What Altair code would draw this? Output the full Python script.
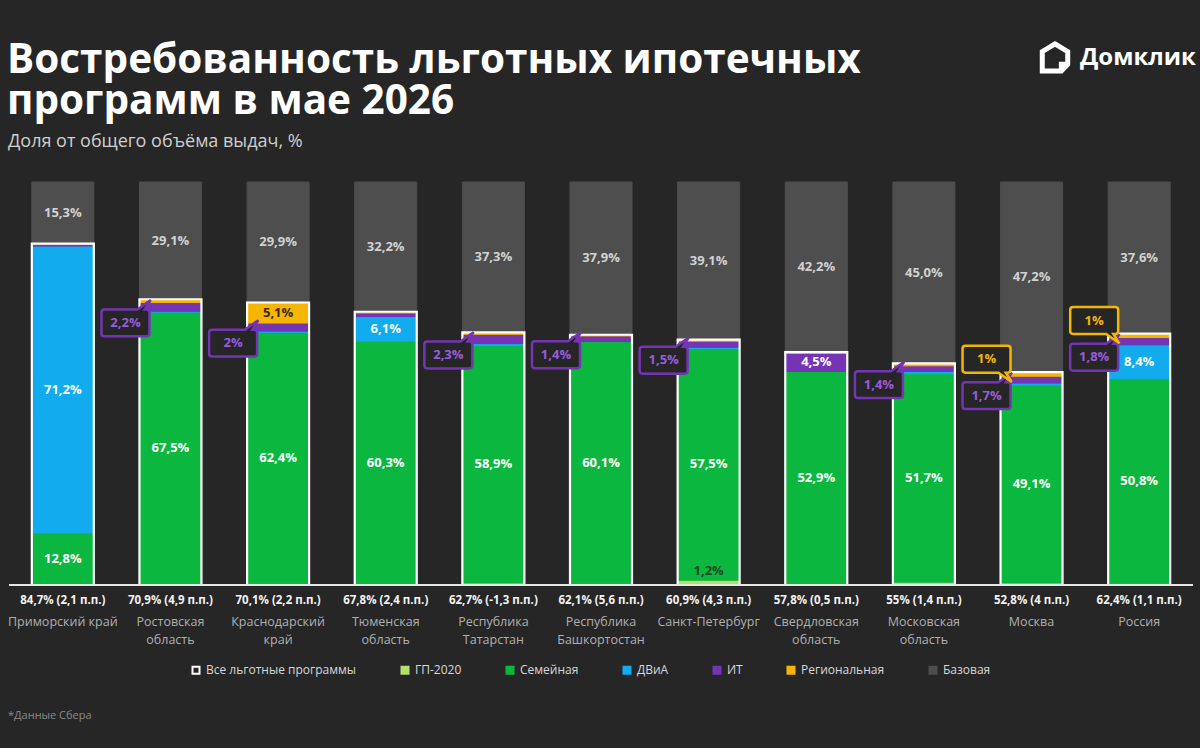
import altair as alt
import pandas as pd

# ---- data -----------------------------------------------------------------
regions = [
    "Приморский край", "Ростовская\nобласть", "Краснодарский\nкрай",
    "Тюменская\nобласть", "Республика\nТатарстан", "Республика\nБашкортостан",
    "Санкт-Петербург", "Свердловская\nобласть", "Московская\nобласть",
    "Москва", "Россия",
]
# share of all preferential programmes, % and change, p.p.
total = [84.7, 70.9, 70.1, 67.8, 62.7, 62.1, 60.9, 57.8, 55.0, 52.8, 62.4]
change = [2.1, 4.9, 2.2, 2.4, -1.3, 5.6, 4.3, 0.5, 1.4, 4.0, 1.1]

# programme shares, % (bottom to top of each stack)
gp2020 = [0.1, 0.2, 0.3, 0.2, 0.5, 0.3, 1.2, 0.1, 0.7, 0.5, 0.4]
family = [12.8, 67.5, 62.4, 60.3, 58.9, 60.1, 57.5, 52.9, 51.7, 49.1, 50.8]
dvia = [71.2, 0.2, 0.3, 6.1, 0.5, 0.0, 0.3, 0.0, 0.6, 0.5, 8.4]
it = [0.5, 2.2, 2.0, 0.9, 2.3, 1.4, 1.5, 4.5, 1.4, 1.7, 1.8]
regional = [0.1, 0.8, 5.1, 0.3, 0.5, 0.3, 0.4, 0.3, 0.6, 1.0, 1.0]

title_lines = ["Востребованность льготных ипотечных", "программ в мае 2026"]
subtitle = "Доля от общего объёма выдач, %"
brand = "Домклик"
source_note = "*Данные Сбера"

ALL = "Все льготные программы"
programs = ["ГП-2020", "Семейная", "ДВиА", "ИТ", "Региональная", "Базовая"]
legend_domain = [ALL] + programs
palette = {
    ALL: "#262626",
    "ГП-2020": "#b4e06a",
    "Семейная": "#0bb73f",
    "ДВиА": "#12abee",
    "ИТ": "#7434b3",
    "Региональная": "#f6b502",
    "Базовая": "#4e4e4e",
}
stroke_palette = dict(palette, **{ALL: "#ffffff"})
text_on = {
    "ГП-2020": "#1d4a1f",
    "Семейная": "#ffffff",
    "ДВиА": "#ffffff",
    "ИТ": "#ffffff",
    "Региональная": "#3b2b00",
    "Базовая": "#d2d2d2",
}

BG = "#262626"
FONT = "Open Sans"


def fmt(v, keep_decimal=False):
    s = f"{v:.1f}"
    if s.endswith(".0") and not keep_decimal:
        s = s[:-2]
    return s.replace(".", ",")


# ---- tables -----------------------------------------------------------------
seg_rows, label_rows, callout_rows = [], [], []
for i, reg in enumerate(regions):
    base = round(100 - total[i], 1)
    vals = [gp2020[i], family[i], dvia[i], it[i], regional[i], base]
    y0 = 0.0
    for prog, v in zip(programs, vals):
        y1 = y0 + v
        if v > 0:
            seg_rows.append(dict(region=reg, program=prog, y0=y0, y1=y1))
        mid = (y0 + y1) / 2
        txt = fmt(v, keep_decimal=(prog == "Базовая")) + "%"
        inside = (
            prog in ("Семейная", "Базовая")
            or (prog in ("ГП-2020", "ДВиА") and v >= 1)
            or (prog in ("ИТ", "Региональная") and v >= 3)
        )
        if inside:
            # the thin ГП-2020 band is labelled just above itself
            pos = y1 + 2.2 if prog == "ГП-2020" else mid
            label_rows.append(dict(region=reg, mid=pos, text=txt, tcolor=text_on[prog]))
        elif prog in ("ИТ", "Региональная") and v >= 1:
            callout_rows.append(dict(region=reg, program=prog, mid=mid, text=txt))
        y0 = y1

segs = pd.DataFrame(seg_rows)
labels = pd.DataFrame(label_rows)
callouts = pd.DataFrame(callout_rows)
totals = pd.DataFrame({
    "region": regions,
    "total": total,
    "caption": [f"{fmt(t)}% ({fmt(c)} п.п.)" for t, c in zip(total, change)],
})

# ---- encodings --------------------------------------------------------------
X = alt.X(
    "region:N", sort=regions, axis=None,
    scale=alt.Scale(paddingInner=0.424, paddingOuter=0.212),
)
Y_SCALE = alt.Scale(domain=[0, 100], nice=False, zero=True)
Y_ZERO = alt.Y(datum=0, scale=Y_SCALE, axis=None)

legend = alt.Legend(
    orient="none", legendX=181, legendY=482, direction="horizontal", columns=7,
    title=None, symbolType="square", symbolSize=49, symbolStrokeWidth=2,
    labelColor="#d8d8d8", labelFontSize=12, labelFont=FONT, labelOffset=4,
    columnPadding=40,
)

bars = alt.Chart(segs).mark_bar().encode(
    x=X,
    y=alt.Y("y0:Q", scale=Y_SCALE, axis=None),
    y2="y1:Q",
    fill=alt.Fill("program:N", legend=legend, scale=alt.Scale(
        domain=legend_domain, range=[palette[k] for k in legend_domain])),
    stroke=alt.Stroke("program:N", legend=legend, scale=alt.Scale(
        domain=legend_domain, range=[stroke_palette[k] for k in legend_domain])),
)

outline = alt.Chart(totals).mark_bar(
    fillOpacity=0, stroke="#ffffff", strokeWidth=2.2
).encode(x=X, y=alt.Y("total:Q", scale=Y_SCALE, axis=None), y2=alt.datum(0))

baseline = alt.Chart(totals).mark_rule(color="#e6e6e6", strokeWidth=2).encode(
    y=Y_ZERO
)

inside_text = alt.Chart(labels).mark_text(
    font=FONT, fontSize=13, fontWeight="bold", baseline="middle"
).encode(
    x=X, y=alt.Y("mid:Q", scale=Y_SCALE, axis=None), text="text:N",
    color=alt.Color("tcolor:N", scale=None),
)

# speech-bubble callouts for thin segments
BOX_IT = ("M-0.88,-0.56 L0.5,-0.56 L1.05,-0.95 L0.8,-0.56 L0.88,-0.56 "
          "Q1,-0.56 1,-0.44 L1,0.44 Q1,0.56 0.88,0.56 L-0.88,0.56 "
          "Q-1,0.56 -1,0.44 L-1,-0.44 Q-1,-0.56 -0.88,-0.56 Z")
BOX_REG = ("M-0.88,-0.56 L0.88,-0.56 Q1,-0.56 1,-0.44 L1,0.44 Q1,0.56 0.88,0.56 "
           "L0.8,0.56 L1.05,0.95 L0.5,0.56 L-0.88,0.56 Q-1,0.56 -1,0.44 "
           "L-1,-0.44 Q-1,-0.56 -0.88,-0.56 Z")


def callout_layers(prog, shape, dy, edge, txt_color):
    src = alt.Chart(callouts).transform_filter(alt.datum.program == prog)
    box = src.mark_point(
        shape=shape, size=2304, filled=True, fill=BG, stroke=edge,
        strokeWidth=2.5, opacity=1, xOffset=-45, yOffset=dy,
    ).encode(x=X, y=alt.Y("mid:Q", scale=Y_SCALE, axis=None))
    txt = src.mark_text(
        font=FONT, fontSize=13, fontWeight="bold", color=txt_color,
        xOffset=-45, yOffset=dy, baseline="middle",
    ).encode(x=X, y=alt.Y("mid:Q", scale=Y_SCALE, axis=None), text="text:N")
    return [box, txt]


it_layers = callout_layers("ИТ", BOX_IT, 16, "#7434b3", "#9a5bdc")
reg_layers = callout_layers("Региональная", BOX_REG, -15, "#f2b705", "#f2b705")

caption_text = alt.Chart(totals).mark_text(
    font=FONT, fontSize=11.5, fontWeight="bold", color="#f2f2f2",
    baseline="middle", dy=16,
).encode(x=X, y=Y_ZERO, text="caption:N")

region_text = alt.Chart(totals).mark_text(
    font=FONT, fontSize=12.5, color="#b0b0b0", baseline="top", dy=31,
    lineBreak="\n", lineHeight=18,
).encode(x=X, y=Y_ZERO, text="region:N")

# heading block, brand mark and footnote
heading = pd.DataFrame({
    "t": [title_lines[0], title_lines[1], subtitle],
    "row": [0, 1, 2],
})


def heading_row(row, y, size, weight, color, x=-2):
    return alt.Chart(heading).transform_filter(
        alt.datum.row == row
    ).mark_text(
        font=FONT, fontSize=size, fontWeight=weight, color=color,
        align="left", baseline="alphabetic",
    ).encode(x=alt.value(x), y=alt.value(y), text="t:N")


head1 = heading_row(0, -109, 40.5, "bold", "#ffffff")
head2 = heading_row(1, -68, 40.5, "bold", "#ffffff")
head_sub = heading_row(2, -35, 18, "normal", "#cfcfcf", x=-1)

deco = pd.DataFrame({"t": [brand], "note": [source_note]})
logo_icon = alt.Chart(deco).mark_point(
    shape="M0,-1 L0.9,-0.45 L0.9,0.45 L0.45,0.92 L-0.9,0.92 L-0.9,-0.45 Z "
          "M0.45,0.92 L0.45,0.45 L0.9,0.45",
    size=800, filled=False, stroke="#ffffff", strokeWidth=5, opacity=1,
).encode(x=alt.value(1046), y=alt.value(-124))
logo_text = alt.Chart(deco).mark_text(
    font=FONT, fontSize=24, fontWeight="bold", color="#ffffff",
    align="left", baseline="middle",
).encode(x=alt.value(1071), y=alt.value(-124), text="t:N")
footnote = alt.Chart(deco).mark_text(
    font=FONT, fontSize=11, color="#8a8a8a", align="left", baseline="middle",
).encode(x=alt.value(-1), y=alt.value(534), text="note:N")

chart = alt.layer(
    bars, outline, baseline, inside_text, *it_layers, *reg_layers,
    caption_text, region_text, head1, head2, head_sub,
    logo_icon, logo_text, footnote,
).properties(
    width=1184, height=403,
    autosize=alt.AutoSizeParams(type="none"),
    padding={"left": 9, "top": 182, "right": 7, "bottom": 163},
    background=BG,
).configure_view(stroke=None)

chart.save("out.html", embed_options={"renderer": "svg", "actions": False})
